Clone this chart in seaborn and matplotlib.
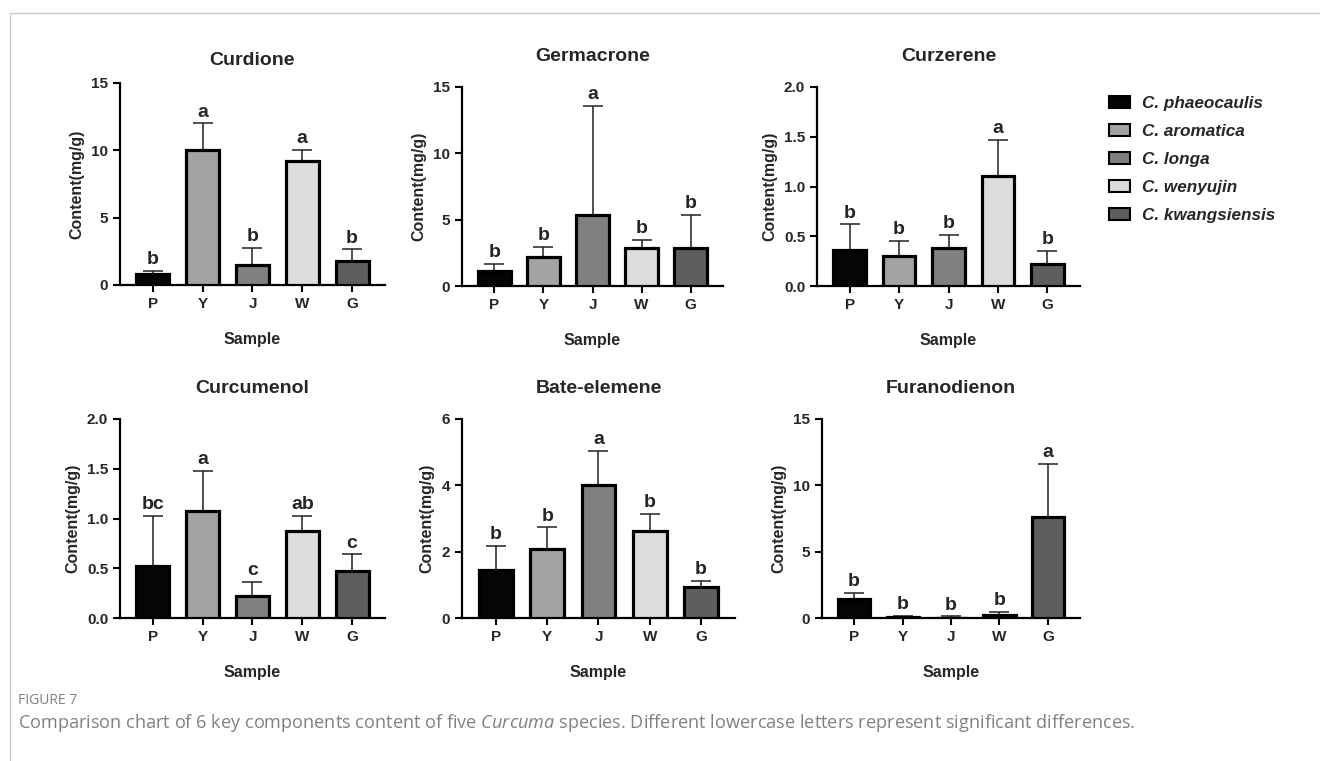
import numpy as np
import pandas as pd
import seaborn as sns
from matplotlib import pyplot as plt
from matplotlib.patches import Patch
from matplotlib.lines import Line2D

# -----------------------------------------------------------------------------
# Data (mean, upper end of error bar)

samples = ['P', 'Y', 'J', 'W', 'G']
species = ['C. phaeocaulis', 'C. aromatica', 'C. longa', 'C. wenyujin',
           'C. kwangsiensis']
colors = ['#050505', '#a2a2a7', '#808080', '#dcdcdc', '#5e5e5e']

titles = ['Curdione', 'Germacrone', 'Curzerene',
          'Curcumenol', 'Bate-elemene', 'Furanodienon']

curdione_mean = [0.85, 10.05, 1.5, 9.2, 1.8]
curdione_top = [1.05, 12.0, 2.75, 10.05, 2.65]
curdione_sig = ['b', 'a', 'b', 'a', 'b']

germacrone_mean = [1.1, 2.2, 5.35, 2.85, 2.9]
germacrone_top = [1.65, 2.92, 13.6, 3.5, 5.35]
germacrone_sig = ['b', 'b', 'a', 'b', 'b']

curzerene_mean = [0.36, 0.30, 0.38, 1.11, 0.22]
curzerene_top = [0.62, 0.45, 0.51, 1.47, 0.35]
curzerene_sig = ['b', 'b', 'b', 'a', 'b']

curcumenol_mean = [0.52, 1.08, 0.22, 0.87, 0.47]
curcumenol_top = [1.03, 1.48, 0.36, 1.03, 0.64]
curcumenol_sig = ['bc', 'a', 'c', 'ab', 'c']

elemene_mean = [1.45, 2.07, 4.0, 2.62, 0.93]
elemene_top = [2.17, 2.73, 5.05, 3.13, 1.12]
elemene_sig = ['b', 'b', 'a', 'b', 'b']

furanodienon_mean = [1.45, 0.08, 0.03, 0.2, 7.6]
furanodienon_top = [1.88, 0.16, 0.12, 0.45, 11.6]
furanodienon_sig = ['b', 'b', 'b', 'b', 'a']

y_limits = [15, 15, 2.0, 2.0, 6, 15]
y_ticks = [[0, 5, 10, 15], [0, 5, 10, 15], [0.0, 0.5, 1.0, 1.5, 2.0],
           [0.0, 0.5, 1.0, 1.5, 2.0], [0, 2, 4, 6], [0, 5, 10, 15]]
y_fmt = ['{:.0f}', '{:.0f}', '{:.1f}', '{:.1f}', '{:.0f}', '{:.0f}']

means = [curdione_mean, germacrone_mean, curzerene_mean,
         curcumenol_mean, elemene_mean, furanodienon_mean]
tops = [curdione_top, germacrone_top, curzerene_top,
        curcumenol_top, elemene_top, furanodienon_top]
sigs = [curdione_sig, germacrone_sig, curzerene_sig,
        curcumenol_sig, elemene_sig, furanodienon_sig]

# axes boxes in pixels: left, right, top, bottom; title pad in points
boxes = [(120, 385, 83, 285), (462, 723, 87, 286), (817, 1080, 87, 286),
         (120, 385, 419, 618), (462, 735, 419, 618), (822, 1080, 419, 618)]
title_pads = [13, 19, 19, 19, 19, 19]

# -----------------------------------------------------------------------------

sns.set_style('ticks')
plt.rcParams['font.family'] = ['Liberation Sans', 'DejaVu Sans']
plt.rcParams['mathtext.fontset'] = 'custom'
plt.rcParams['mathtext.it'] = 'Open Sans:style=italic:weight=normal'

W, H = 1320, 761
fig = plt.figure(figsize=(W / 100, H / 100), dpi=100)

for idx in range(6):
    left, right, top, bottom = boxes[idx]
    ax = fig.add_axes([left / W, 1 - bottom / H,
                       (right - left) / W, (bottom - top) / H])
    df = pd.DataFrame({'sample': samples, 'mean': means[idx],
                       'top': tops[idx]})
    sns.barplot(data=df, x='sample', y='mean', hue='sample', order=samples,
                hue_order=samples, palette=colors, edgecolor='black',
                linewidth=2.3, width=0.66, legend=False, ax=ax, zorder=3)
    err = np.array(tops[idx]) - np.array(means[idx])
    ax.errorbar(np.arange(5), means[idx],
                yerr=[np.zeros(5), err], fmt='none', ecolor='#202020',
                elinewidth=1.1, capsize=7, capthick=1.1, zorder=2)
    for i, letter in enumerate(sigs[idx]):
        ax.annotate(letter, (i, tops[idx][i]), xytext=(0, 2),
                    textcoords='offset points', ha='center', va='bottom',
                    fontsize=14, fontweight='bold')
    ax.set_xlim(-0.66, 4.66)
    ax.set_ylim(0, y_limits[idx])
    ax.set_yticks(y_ticks[idx])
    ax.set_yticklabels([y_fmt[idx].format(v) for v in y_ticks[idx]])
    ax.set_title(titles[idx], fontsize=14, fontweight='bold',
                 pad=title_pads[idx])
    ax.set_xlabel('Sample', fontsize=11.5, fontweight='bold', labelpad=15)
    ax.set_ylabel('Content(mg/g)', fontsize=11.5, fontweight='bold',
                  labelpad=5)
    ax.tick_params(axis='both', labelsize=11, width=1.5, length=5,
                   color='black')
    for lab in ax.get_xticklabels() + ax.get_yticklabels():
        lab.set_fontweight('bold')
    sns.despine(ax=ax)
    for side in ('left', 'bottom'):
        ax.spines[side].set_linewidth(1.6)
        ax.spines[side].set_color('black')

handles = [Patch(facecolor=c, edgecolor='black', linewidth=1.5)
           for c in colors]
fig.legend(handles, species, loc='upper left',
           bbox_to_anchor=(1094 / W, 1 - 81 / H),
           frameon=False, handlelength=1.2, handleheight=0.7,
           handletextpad=0.7, labelspacing=0.75,
           prop={'family': 'Liberation Sans', 'weight': 'bold',
                 'style': 'italic', 'size': 12.3})

# frame lines and caption
fig.add_artist(Line2D([10 / W, 1], [1 - 13 / H, 1 - 13 / H],
                      color='#cccccc', lw=1))
fig.add_artist(Line2D([10 / W, 10 / W], [0, 1 - 13 / H],
                      color='#cccccc', lw=1))
fig.text(18 / W, 1 - 700 / H, 'FIGURE 7', fontsize=10, color='#808080',
         family='Open Sans', fontweight='normal', va='center')
fig.text(18 / W, 1 - 723 / H,
         'Comparison chart of 6 key components content of five '
         r'$\it{Curcuma}$ species. Different lowercase letters represent '
         'significant differences.',
         fontsize=13.1, color='#808080', family='Open Sans',
         fontweight='normal', va='center')

fig.savefig('out.png', dpi=100)
